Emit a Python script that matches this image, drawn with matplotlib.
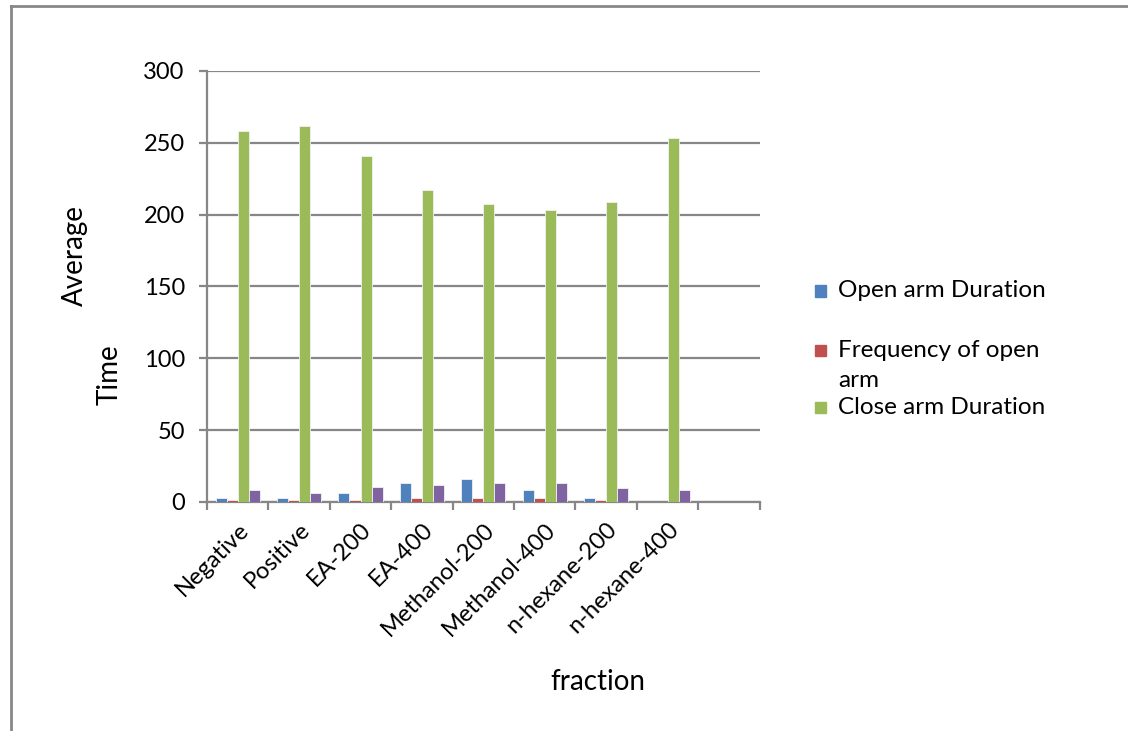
import numpy as np
import matplotlib
matplotlib.use("Agg")
import matplotlib.pyplot as plt
from matplotlib.lines import Line2D
from matplotlib.patches import Rectangle

plt.rcParams['font.family'] = ['Lato', 'DejaVu Sans']

fractions = ['Negative', 'Positive', 'EA-200', 'EA-400', 'Methanol-200',
             'Methanol-400', 'n-hexane-200', 'n-hexane-400', '']
open_arm = [3, 3, 6.5, 13.5, 16, 8, 2.5, 0, 0]
freq_open = [1.5, 1.5, 1.5, 2.5, 2.5, 2.5, 1.2, 0, 0]
close_arm = [258, 261.5, 241, 217, 207.5, 203.5, 209, 253.5, 0]
other = [8, 6.5, 10.5, 12, 13.5, 13.5, 9.5, 8, 0]

series = [open_arm, freq_open, close_arm, other]
colors = ['#4F81BD', '#C0504D', '#9BBB59', '#8064A2']
legend_labels = [['Open arm Duration'], ['Frequency of open', 'arm'], ['Close arm Duration']]

grid_c = '#878787'

fig = plt.figure(figsize=(11.28, 7.31), dpi=100)
ax = fig.add_axes([0.1835, 0.3133, 0.49, 0.5896])

x = np.arange(len(fractions))
w = 0.18
offsets = [-1.5 * w, -0.5 * w, 0.5 * w, 1.5 * w]
for vals, c, off in zip(series, colors, offsets):
    ax.bar(x + off, vals, w, color=c, edgecolor='#f2f2f2', linewidth=0.6, zorder=3)

ax.set_xlim(-0.5, len(fractions) - 0.5)
ax.set_ylim(0, 300)
ax.set_yticks(range(0, 301, 50))
ax.yaxis.grid(True, color=grid_c, linewidth=1.6)
ax.set_axisbelow(True)

ax.set_xticks(x)
ax.set_xticklabels(fractions, rotation=45, ha='right', va='top',
                   rotation_mode='anchor', fontsize=17)
ax.tick_params(axis='x', length=0, pad=12)
ax.set_xticks(np.arange(-0.5, len(fractions)), minor=True)
ax.tick_params(axis='x', which='minor', length=6, width=1.6, color=grid_c)
ax.tick_params(axis='y', length=6, width=1.6, color=grid_c, pad=10, labelsize=17)

for s in ['top', 'right']:
    ax.spines[s].set_visible(False)
for s in ['left', 'bottom']:
    ax.spines[s].set_color(grid_c)
    ax.spines[s].set_linewidth(1.6)

fig.text(0.530, 0.067, 'fraction', ha='center', va='center', fontsize=20)
fig.text(0.0665, 0.651, 'Average', rotation=90, ha='center', va='center', fontsize=20)
fig.text(0.0975, 0.487, 'Time', rotation=90, ha='center', va='center', fontsize=20)

# legend drawn by hand (Excel-like spacing)
leg_y = [0.602, 0.521, 0.443]
for lines, c, yy in zip(legend_labels, colors[:3], leg_y):
    fig.add_artist(Rectangle((0.7225, yy - 0.008), 0.0095, 0.0155,
                             transform=fig.transFigure, color=c))
    for k, line in enumerate(lines):
        fig.text(0.743, yy - k * 0.041, line, ha='left', va='center', fontsize=17.5)

# outer chart frame
fig.add_artist(Line2D([0.0095, 0.0095], [0.0, 0.992], color=grid_c, linewidth=2))
fig.add_artist(Line2D([0.0095, 1.0], [0.992, 0.992], color=grid_c, linewidth=2))

fig.savefig('out.png', dpi=100)
